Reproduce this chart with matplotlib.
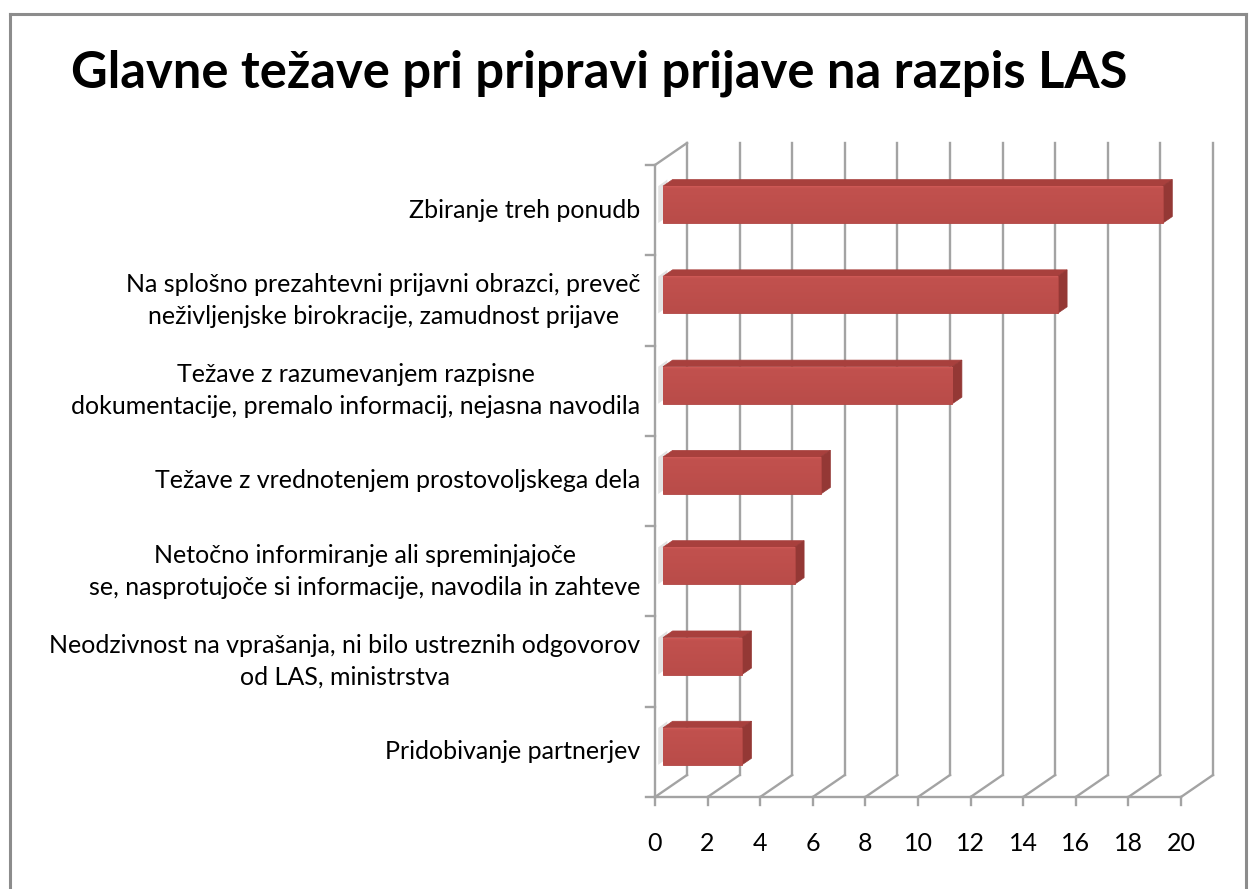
import numpy as np
import matplotlib.pyplot as plt
from matplotlib.patches import Rectangle, Polygon
from matplotlib.lines import Line2D
from matplotlib.colors import LinearSegmentedColormap

categories = [
    "Zbiranje treh ponudb",
    "Na splošno prezahtevni prijavni obrazci, preveč\nneživljenjske birokracije, zamudnost prijave",
    "Težave z razumevanjem razpisne\ndokumentacije, premalo informacij, nejasna navodila",
    "Težave z vrednotenjem prostovoljskega dela",
    "Netočno informiranje ali spreminjajoče\nse, nasprotujoče si informacije, navodila in zahteve",
    "Neodzivnost na vprašanja, ni bilo ustreznih odgovorov\nod LAS, ministrstva",
    "Pridobivanje partnerjev",
]
values = [19, 15, 11, 6, 5, 3, 3]
x_ticks = list(range(0, 21, 2))
title = "Glavne težave pri pripravi prijave na razpis LAS"

plt.rcParams['font.family'] = ['Lato', 'DejaVu Sans']

W, H = 1251, 889
fig = plt.figure(figsize=(W / 100, H / 100), dpi=100)

# front plane of the 3d plot area, in pixels
left_px, right_px, top_px, bottom_px = 655, 1181, 165, 797
ax = fig.add_axes([left_px / W, (H - bottom_px) / H,
                   (right_px - left_px) / W, (bottom_px - top_px) / H])
ax.axis('off')

n = len(categories)

# depth of the box in pixels, converted to data units
ux = (right_px - left_px) / 20
uy = (bottom_px - top_px) / n
DX, DY = 32 / ux, 22 / uy

def shift(d):
    return d * DX, d * DY

grid_col = '#a3a3a3'
lw = 1.7

# back wall gridlines and floor
bx, by = shift(1)
for t in x_ticks:
    ax.add_line(Line2D([t + bx, t + bx], [by, n + by], color=grid_col, lw=lw, clip_on=False))
    ax.add_line(Line2D([t, t + bx], [0, by], color=grid_col, lw=lw, clip_on=False))
    ax.add_line(Line2D([t, t], [0, -0.09], color=grid_col, lw=lw, clip_on=False))
ax.add_line(Line2D([0, 20], [0, 0], color=grid_col, lw=lw, clip_on=False))

# left wall
ax.add_line(Line2D([0, 0], [0, n], color=grid_col, lw=lw, clip_on=False))
ax.add_line(Line2D([0, bx], [n, n + by], color=grid_col, lw=lw, clip_on=False))
for k in range(n + 1):
    ax.add_line(Line2D([-0.35, 0], [k, k], color=grid_col, lw=lw, clip_on=False))

shade = LinearSegmentedColormap.from_list(
    'barshade', ['#d85f5c', '#c4534f', '#c0504d', '#b94c49'])

# bars with front, top and side faces
h = 0.41
f0x, f0y = shift(0.25)
f1x, f1y = shift(0.55)
for i, v in enumerate(values):
    yc = n - 0.5 - i
    bot, top = yc - h / 2, yc + h / 2
    # soft shadow on the left wall
    ax.add_patch(Polygon([(f0x * 0.4, bot + f0y), (f0x * 0.4, top + f0y),
                          (f1x * 0.7, top + f1y), (f1x * 0.7, bot + f1y)],
                         closed=True, facecolor='#d9d9d9', edgecolor='none',
                         alpha=0.7, clip_on=False, zorder=2))
    ax.add_patch(Polygon([(f0x, top + f0y), (v + f0x, top + f0y),
                          (v + f1x, top + f1y), (f1x, top + f1y)],
                         closed=True, facecolor='#a8403d', edgecolor='#a8403d',
                         lw=0.5, clip_on=False, zorder=3))
    ax.add_patch(Polygon([(v + f0x, bot + f0y), (v + f0x, top + f0y),
                          (v + f1x, top + f1y), (v + f1x, bot + f1y)],
                         closed=True, facecolor='#943835', edgecolor='#943835',
                         lw=0.5, clip_on=False, zorder=3))
    front = Rectangle((f0x, bot + f0y), v, h, facecolor='#c0504d',
                      edgecolor='#b04643', lw=0.6, clip_on=False, zorder=4)
    ax.add_patch(front)
    # shading across the front face, lighter along the top edge
    grad = np.concatenate([np.linspace(0, 0.6, 8), np.linspace(0.6, 1, 56)]).reshape(-1, 1)
    im = ax.imshow(grad, cmap=shade, origin='upper',
                   extent=(f0x, v + f0x, bot + f0y, top + f0y), aspect='auto',
                   zorder=4.5)
    im.set_clip_path(front)

ax.set_xlim(0, 20)
ax.set_ylim(0, n)

# category labels
for i, lab in enumerate(categories):
    yc = n - 0.5 - i
    ax.text(-0.55, yc, lab, ha='right', va='center', multialignment='center',
            fontsize=18, linespacing=1.45, color='#000000')

# value axis labels
for t in x_ticks:
    ax.text(t, -0.52, str(t), ha='center', va='center', fontsize=18, color='#000000')

fig.text(599 / W, 1 - 73 / H, title, ha='center', va='center',
         fontsize=36.5, fontweight='bold', color='#000000')

# chart frame
frame = dict(color='#8c8c8c', lw=2.2)
fig.add_artist(Line2D([10 / W, 10 / W], [0, 1 - 14 / H], transform=fig.transFigure, **frame))
fig.add_artist(Line2D([10 / W, 1246 / W], [1 - 14 / H, 1 - 14 / H], transform=fig.transFigure, **frame))
fig.add_artist(Line2D([1246 / W, 1246 / W], [0, 1 - 14 / H], transform=fig.transFigure, **frame))

fig.savefig('out.png', dpi=100)
